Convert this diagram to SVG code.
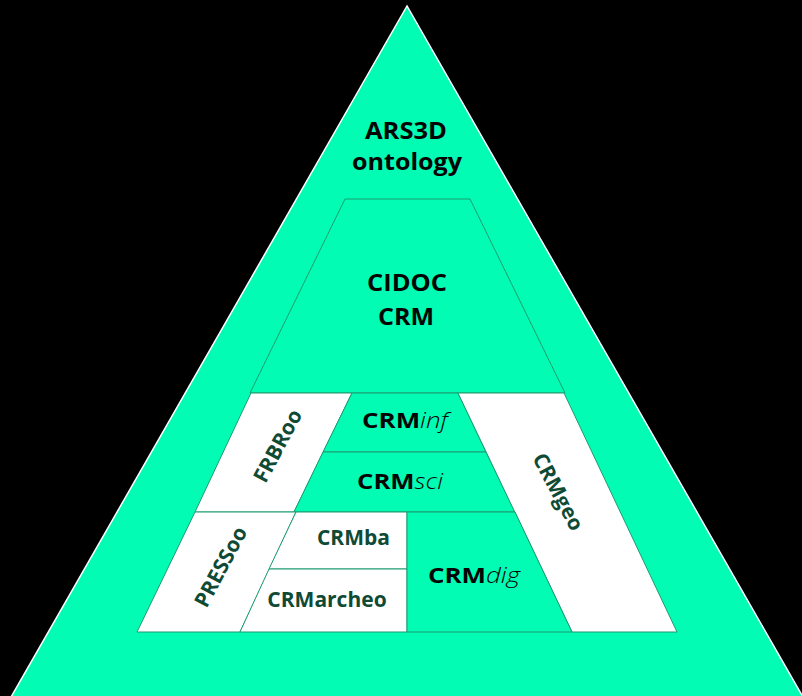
<svg xmlns="http://www.w3.org/2000/svg" width="802" height="696" viewBox="0 0 802 696">
<style>
.g{fill:#02fcb4;stroke:#1d9c70;stroke-width:1}
.w{fill:#ffffff;stroke:#1d9c70;stroke-width:1}
.tb{font-family:"Open Sans","Liberation Sans",sans-serif;font-weight:700;fill:#050505}
.td{font-family:"Open Sans","Liberation Sans",sans-serif;font-weight:700;fill:#0f4a35}
.it{font-weight:300;font-style:italic}
</style>
<rect x="0" y="0" width="802" height="696" fill="#000000"/>
<g id="ars3d">
<polygon points="407,6 -5,725 819,725" fill="#02fcb4" stroke="#ffffff" stroke-width="1.5"/>
<text class="tb" x="365" y="139" font-size="24" textLength="82" lengthAdjust="spacingAndGlyphs">ARS3D</text>
<text class="tb" x="352" y="170" font-size="24" textLength="110" lengthAdjust="spacingAndGlyphs">ontology</text>
</g>
<g id="cidoc">
<polygon class="g" points="345,199 470,199 565,393 250,393"/>
<text class="tb" x="367" y="291" font-size="23" textLength="80" lengthAdjust="spacingAndGlyphs">CIDOC</text>
<text class="tb" x="378" y="325" font-size="23" textLength="56" lengthAdjust="spacingAndGlyphs">CRM</text>
</g>
<g id="frbroo">
<polygon class="w" points="251,393 352,393 294,512 195,512"/>
<text class="td" font-size="21" text-anchor="middle" transform="translate(278,446) rotate(-62)" y="7">FRBRoo</text>
</g>
<g id="crminf">
<polygon class="g" points="352,393 458,393 486,452 323,452"/>
<text class="tb" x="362" y="428" font-size="22" textLength="86" lengthAdjust="spacingAndGlyphs">CRM<tspan class="it">inf</tspan></text>
</g>
<g id="crmsci">
<polygon class="g" points="323,452 486,452 515,512 294,512"/>
<text class="tb" x="357" y="489" font-size="22" textLength="86" lengthAdjust="spacingAndGlyphs">CRM<tspan class="it">sci</tspan></text>
</g>
<g id="crmgeo">
<polygon class="w" points="458,393 564,393 677,632 572,632"/>
<text class="td" font-size="21" text-anchor="middle" transform="translate(558,492) rotate(62)" y="7">CRMgeo</text>
</g>
<g id="pressoo">
<polygon class="w" points="195,512 296,512 240,632 137,632"/>
<text class="td" font-size="21" text-anchor="middle" transform="translate(221,567) rotate(-62)" y="7">PRESSoo</text>
</g>
<g id="crmba">
<polygon class="w" points="296,512 407,512 407,569 269,569"/>
<text class="td" x="390" y="545" font-size="21" text-anchor="end">CRMba</text>
</g>
<g id="crmarcheo">
<polygon class="w" points="269,569 407,569 407,632 240,632"/>
<text class="td" x="327" y="607" font-size="21" text-anchor="middle">CRMarcheo</text>
</g>
<g id="crmdig">
<polygon class="g" points="407,512 515,512 572,632 407,632"/>
<text class="tb" x="428" y="583" font-size="22" textLength="92" lengthAdjust="spacingAndGlyphs">CRM<tspan class="it">dig</tspan></text>
</g>
<g id="connectors"/>
</svg>
